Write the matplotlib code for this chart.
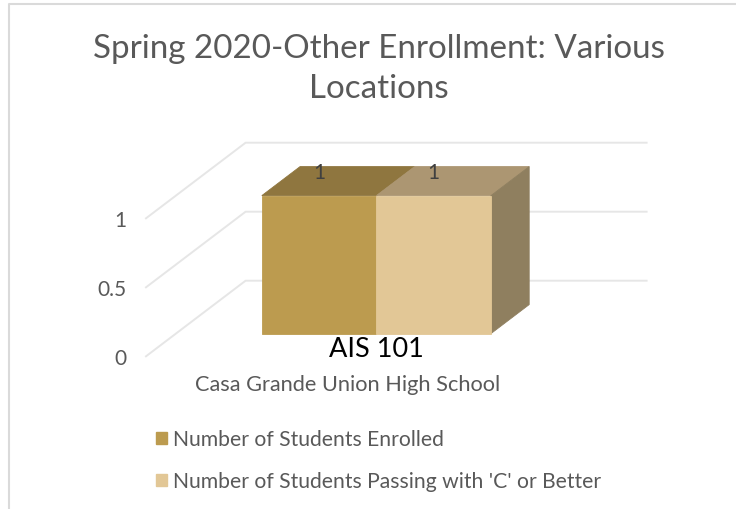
import matplotlib
matplotlib.use("Agg")
import matplotlib.pyplot as plt
from matplotlib.lines import Line2D
from matplotlib.patches import Patch

plt.rcParams['font.family'] = ['Lato', 'DejaVu Sans']

# --- Data ---
title = "Spring 2020-Other Enrollment: Various\nLocations"
course = "AIS 101"
school = "Casa Grande Union High School"
series_names = ["Number of Students Enrolled", "Number of Students Passing with 'C' or Better"]
series_values = [1, 1]
y_ticks = [0, 0.5, 1]
y_tick_labels = ["0", "0.5", "1"]

# colours: front, top, side
front_colors = ["#BC9B4F", "#E2C796"]
top_colors = ["#8F763F", "#AC9672"]
side_color = "#8F7F5F"
grid_color = "#E6E6E6"
text_color = "#595959"

W, H = 736, 510
fig = plt.figure(figsize=(W / 100, H / 100), dpi=100)
ax = fig.add_axes([146 / W, (H - 357.3) / H, 401 / W, 138 / H])
ax.set_xlim(-0.5, 0.5)
ax.set_ylim(0, 1)

# oblique depth of the 3D box, in data units
depth_x = 99.6 / 401
depth_y = 75.6 / 138


def proj(x, y, z):
    return x + z * depth_x, y + z * depth_y


def face(points, color, zorder):
    xs, ys = zip(*[proj(*p) for p in points])
    ax.fill(xs, ys, color=color, lw=0.6, clip_on=False, zorder=zorder)


# walls: one line along the floor/side, one along the back
for t in y_ticks:
    xs, ys = zip(proj(-0.5, t, 0), proj(-0.5, t, 1), proj(0.5, t, 1))
    ax.plot(xs, ys, color=grid_color, lw=1.4, clip_on=False, zorder=1)

# bars
bar_w = 1 / 3.5
z0, z1 = 0.30, 0.684
left = -bar_w
for i, v in enumerate(series_values):
    x0 = left + i * bar_w
    x1 = x0 + bar_w
    face([(x0, v, z0), (x1, v, z0), (x1, v, z1), (x0, v, z1)], top_colors[i], 3)
    face([(x0, 0, z0), (x1, 0, z0), (x1, v, z0), (x0, v, z0)], front_colors[i], 4)
    if i == len(series_values) - 1:
        face([(x1, 0, z0), (x1, 0, z1), (x1, v, z1), (x1, v, z0)], side_color, 3)
    # value labels sit above the front edge of the bar
    ax.annotate(str(v), proj((x0 + x1) / 2, v, z0), xytext=(0, 17), textcoords="offset points",
                ha="center", va="center", fontsize=15, color="#404040", zorder=5,
                annotation_clip=False)

# category labels
cx, cy = proj(0, 0, z0)
ax.annotate(course, (cx, cy), xytext=(0, -1.5), textcoords="offset points",
            ha="center", va="top", fontsize=19.5, color="black", zorder=5,
            annotation_clip=False)
fig.text(348 / W, 1 - 385 / H, school, ha="center", va="center", fontsize=15.7, color=text_color)

# axis
ax.set_yticks(y_ticks)
ax.set_yticklabels(y_tick_labels, fontsize=15, color=text_color)
ax.tick_params(axis="y", length=0, pad=14)
ax.set_xticks([])
for s in ax.spines.values():
    s.set_visible(False)
ax.patch.set_visible(False)

fig.text(378.5 / W, 1 - 69 / H, title, ha="center", va="center", fontsize=23.9,
         color=text_color, linespacing=1.4)

handles = [Patch(color=c) for c in front_colors]
fig.legend(handles, series_names, loc="upper left", bbox_to_anchor=(150 / W, 1 - 424 / H),
           frameon=False, fontsize=15.2, labelcolor=text_color, handlelength=0.5, handleheight=0.5,
           handletextpad=0.27, labelspacing=1.05, borderpad=0.3, borderaxespad=0)

# chart frame, top and left only
fig.add_artist(Line2D([9 / W, 9 / W, 1], [0, 1 - 5 / H, 1 - 5 / H], color="#DADADA", lw=1.5))

fig.savefig("out.png", dpi=100)
